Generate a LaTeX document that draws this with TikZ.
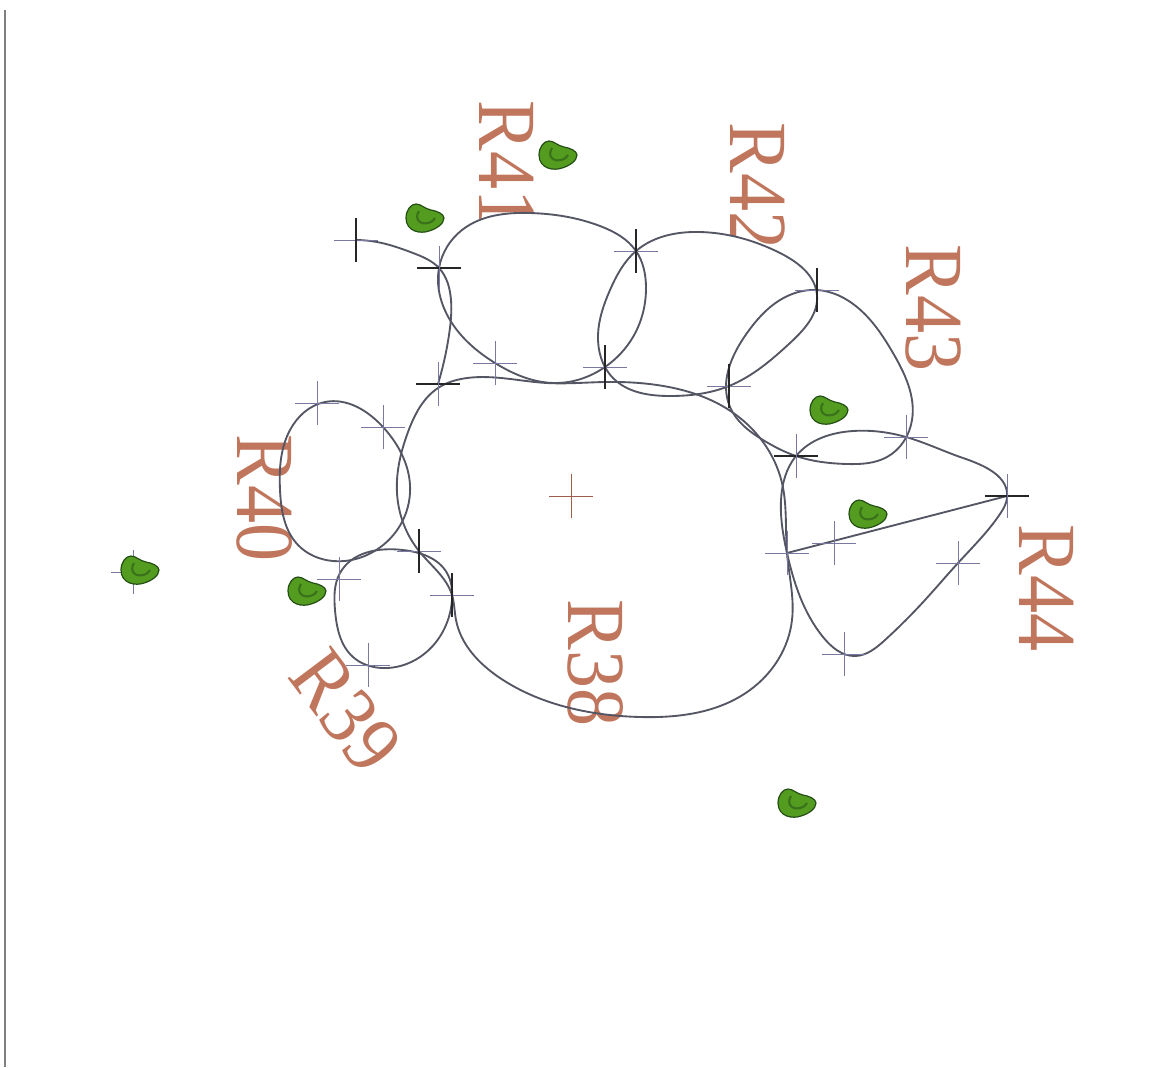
\documentclass[tikz,border=0pt]{standalone}
\usepackage{fontspec}
\setmainfont{Liberation Serif}
\definecolor{mlcurve}{RGB}{84,86,100}
\definecolor{mlcross}{RGB}{120,120,160}
\definecolor{mllabel}{RGB}{192,118,92}
\definecolor{mlleaf}{RGB}{84,156,32}
\definecolor{mlleafdark}{RGB}{36,78,22}
\usetikzlibrary{calc,hobby}
\begin{document}
\begin{tikzpicture}[x=0.75pt,y=-0.75pt,
  loopline/.style={draw=mlcurve,line width=1.4pt},
  armline/.style={draw=mlcross,line width=0.6pt},
  armdark/.style={draw=black!85,line width=0.8pt},
  roomlabel/.style={font=\fontsize{62}{62}\selectfont,text=mllabel,inner sep=0pt,xscale=0.92,transform shape},
  leaf/.pic={
    \draw[fill=mlleaf,draw=mlleafdark,line width=0.9pt] (-19,-1) .. controls (-19,-9) and (-14,-15) .. (-9,-15)
      .. controls (-4,-15) and (0,-10) .. (6,-9) .. controls (12,-8) and (19,-5) .. (19,-1)
      .. controls (19,5) and (11,10) .. (4,12) .. controls (-4,15) and (-19,13) .. (-19,-1) -- cycle;
    \draw[mlleafdark!55!mlleaf,line width=1.6pt] (-6,-8) .. controls (-11,0) and (-5,6) .. (3,4) .. controls (7,3) and (9,1) .. (10,-1);
  }]
  \useasboundingbox (0,0) rectangle (1151,1067);
  % Margin line
  \draw[gray,line width=1.1pt] (5,10) -- (5,1067);
  % Room labels
  \node[rotate=-90,roomlabel] (r38) at (596,663) {R38};
  \node[rotate=-53,roomlabel] (r39) at (346,711) {R39};
  \node[rotate=-90,roomlabel] (r40) at (265,498) {R40};
  \node[rotate=-90,roomlabel] (r41) at (507,164) {R41};
  \node[rotate=-90,roomlabel] (r42) at (758,186) {R42};
  \node[rotate=-90,roomlabel] (r43) at (933,308) {R43};
  \node[rotate=-90,roomlabel] (r44) at (1047,588) {R44};
  % White cover under the top loops
  \fill[white] plot[closed hobby] coordinates {(439,268) (462,230) (530,213) (600,226) (636,251) (646,287) (633,337) (605,367) (557,383) (495,363) (450,320)};
  \fill[white] plot[closed hobby] coordinates {(636,251) (700,232) (780,253) (817,295) (790,343) (729,386) (670,396) (613,378) (598,335) (610,290)};
  % R38
  \draw[loopline] plot[closed hobby] coordinates {(438,388) (408,432) (397,493) (419,551) (452,595) (456,620) (500,678) (570,708) (640,717) (750,690) (792,620) (787,553) (782,483) (729,410) (657,385) (605,382) (547,383) (467,378)};
  % R39
  \draw[loopline] plot[closed hobby] coordinates {(340,573) (403,550) (447,573) (452,600) (420,657) (382,668) (353,657) (335,610)};
  % R40
  \draw[loopline] plot[closed hobby] coordinates {(325,402) (383,427) (410,493) (367,555) (333,561) (298,545) (280,490) (290,430)};
  % R41
  \draw[loopline] plot[closed hobby] coordinates {(439,268) (462,230) (530,213) (600,226) (636,251) (646,287) (633,337) (605,367) (557,383) (495,363) (450,320)};
  \draw[loopline] plot[hobby] coordinates {(356,240) (377,242) (413,253) (439,268) (451,300) (449,335) (438,384)};
  % R42
  \draw[loopline] plot[closed hobby] coordinates {(636,251) (700,232) (780,253) (817,295) (790,343) (729,386) (670,396) (613,378) (598,335) (610,290)};
  % R43
  \draw[loopline] plot[closed hobby] coordinates {(817,290) (857,307) (893,353) (912,420) (887,457) (847,464) (796,456) (763,440) (730,407) (747,333) (780,300)};
  % R44
  \draw[loopline] plot[closed hobby] coordinates {(1007,498) (963,458) (906,437) (853,431) (796,456) (781,500) (787,553) (823,637) (855,656) (885,640) (925,600) (958,563) (1000,514)};
  \coordinate (chorda) at (787,553);
  \coordinate (chordb) at (1007,496);
  \draw[loopline] (chorda) -- (chordb);
  % Crosses
  \foreach \x/\y in {495/363,906/437,834/543,787/553,958/563,844/654,317/403,383/427,339/579,368/665,133/572}{
    \draw[armline] (\x-22,\y) -- (\x+22,\y);
    \draw[armline] (\x,\y-22) -- (\x,\y+22);
  }
  % black vertical arm
  \foreach \x/\y in {356/240,636/251,605/367,817/290,729/386,419/551,452/595}{
    \draw[armline] (\x-22,\y) -- (\x+22,\y);
    \draw[armdark] (\x,\y-22) -- (\x,\y+22);
  }
  % black horizontal arm
  \foreach \x/\y in {439/268,438/384,796/456,1007/496}{
    \draw[armdark] (\x-22,\y) -- (\x+22,\y);
    \draw[armline] (\x,\y-22) -- (\x,\y+22);
  }
  \draw[draw=mllabel!80!black,line width=0.6pt] (549,496) -- (593,496) (571,474) -- (571,518);
  % Leaves
  \foreach \x/\y in {558/156,425/219,829/411,868/515,307/592,140/571,797/804}{
    \pic at (\x,\y) {leaf};
  }
\end{tikzpicture}
\end{document}
